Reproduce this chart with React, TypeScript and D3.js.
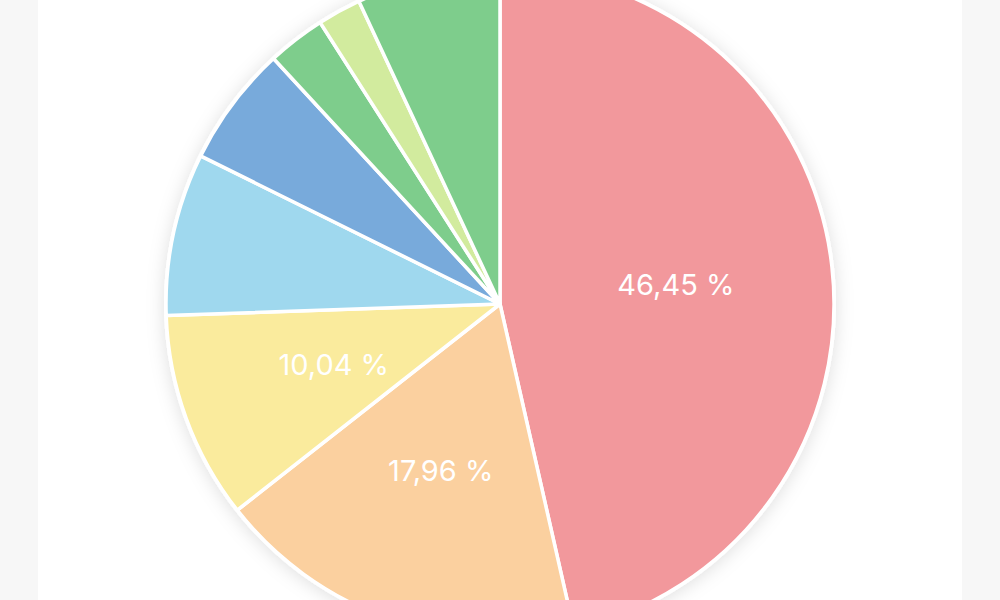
import { arc, pie, PieArcDatum } from 'd3';
import { useEffect } from 'react';

// slices in clockwise order from 12 o'clock
const categories = ['A', 'B', 'C', 'D', 'E', 'F', 'G', 'H'];
const values = [46.45, 17.96, 10.04, 7.86, 5.83, 2.81, 2.11, 6.94];
const colors = [
  '#f2989c',
  '#fbd09f',
  '#faeb9d',
  '#9fd8ee',
  '#78aadb',
  '#7ecd8c',
  '#d2eb9e',
  '#7ecd8c'
];
const labelMin = 10; // only the bigger slices carry a label

interface Slice {
  name: string;
  value: number;
  color: string;
}

const data: Slice[] = categories.map((c, i) => ({
  name: c,
  value: values[i],
  color: colors[i]
}));

const fmt = (v: number): string => `${v.toFixed(2).replace('.', ',')} %`;

function App(): JSX.Element {
  const width = 1000;
  const height = 600;
  const cx = 500;
  const cy = 304;
  const radius = 334;

  useEffect(() => {
    document.body.style.margin = '0';
  }, []);

  const pieGen = pie<Slice>()
    .sort(null)
    .value((d) => d.value);
  const arcs = pieGen(data);

  const arcGen = arc<PieArcDatum<Slice>>().innerRadius(0).outerRadius(radius);
  const labelArc = arc<PieArcDatum<Slice>>()
    .innerRadius(177)
    .outerRadius(177);

  return (
    <svg
      width={width}
      height={height}
      style={{ display: 'block', position: 'absolute', left: 0, top: 0 }}
    >
      <defs>
        <filter id="shadow" x="-20%" y="-20%" width="140%" height="140%">
          <feDropShadow dx="0" dy="2" stdDeviation="9" floodColor="#000" floodOpacity="0.13" />
        </filter>
      </defs>
      <rect x={0} y={0} width={width} height={height} fill="#f7f7f7" />
      <rect x={38} y={0} width={924} height={height} fill="#ffffff" />
      <g transform={`translate(${cx},${cy})`}>
        <circle r={radius + 2} fill="#ffffff" filter="url(#shadow)" />
        {arcs.map((a) => (
          <path
            key={a.data.name + a.index}
            d={arcGen(a) || ''}
            fill={a.data.color}
            stroke="#ffffff"
            strokeWidth={3.5}
            strokeLinejoin="round"
          />
        ))}
        {arcs
          .filter((a) => a.data.value >= labelMin)
          .map((a) => {
            const [x, y] = labelArc.centroid(a);
            return (
              <text
                key={`l${a.index}`}
                x={x}
                y={y}
                textAnchor="middle"
                dominantBaseline="central"
                fill="#ffffff"
                fontFamily="Inter, 'Liberation Sans', sans-serif"
                fontSize={29}
                fontWeight={400}
              >
                {fmt(a.data.value)}
              </text>
            );
          })}
      </g>
    </svg>
  );
}

export default App;
